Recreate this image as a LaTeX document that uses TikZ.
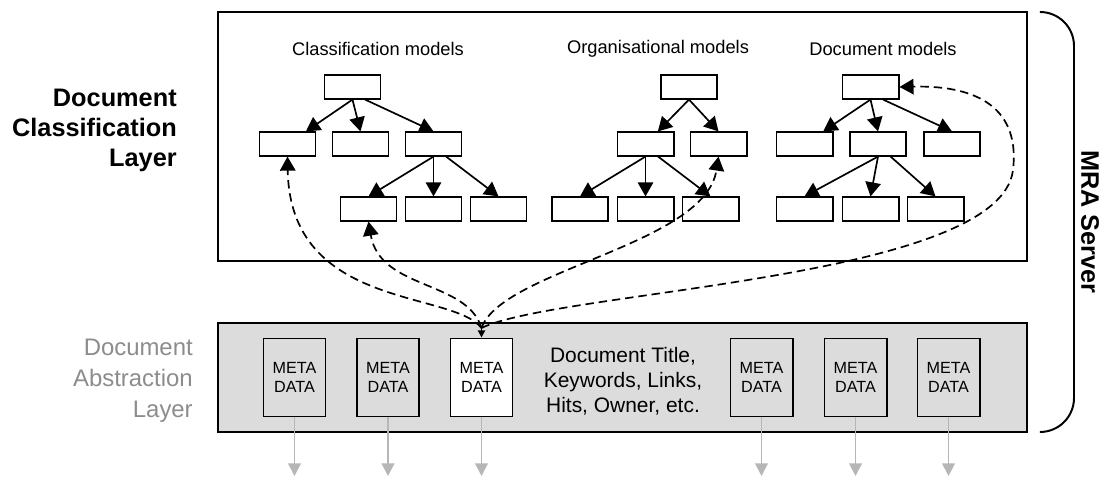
\documentclass[tikz,border=0pt]{standalone}
\usepackage{fontspec}
\setmainfont{Liberation Sans}
\usetikzlibrary{arrows.meta}
\definecolor{layergray}{RGB}{220,220,220}
\definecolor{labelgray}{RGB}{140,140,140}
\definecolor{flowgray}{RGB}{182,182,182}
\begin{document}
\begin{tikzpicture}[x=0.025cm,y=-0.025cm,
        model/.style={draw,line width=1.4pt,fill=white,minimum width=1.4cm,minimum height=0.58cm,inner sep=0pt},
        meta/.style={draw,line width=1.4pt,fill=layergray,minimum width=1.55cm,minimum height=1.95cm,inner sep=0pt,align=center,font=\fontsize{11.5}{13.6}\selectfont},
        heading/.style={font=\fontsize{13}{15}\selectfont},
        link/.style={line width=1.2pt,-{Triangle[length=10pt,width=11pt]}},
        query/.style={line width=1.2pt,dash pattern=on 6pt off 3.5pt,-{Triangle[length=10pt,width=11pt]}},
        flow/.style={draw=flowgray,line width=1.4pt,-{Triangle[length=9pt,width=9pt]}}]
    \useasboundingbox (0,0) rectangle (1104,477);
    \draw[line width=1.4pt] (218,12) rectangle (1027,261);
    \draw[line width=1.4pt,fill=layergray] (218,323) rectangle (1027,432);
    \draw[line width=1.4pt,rounded corners=0.85cm] (1040,12) -- (1074,12) -- (1074,432) -- (1040,432);
    \node[rotate=-90,font=\fontsize{18}{21}\selectfont\bfseries] (mra) at (1090,222) {MRA Server};
    \node[anchor=east,align=right,inner sep=0pt,font=\fontsize{18}{21.3}\selectfont\bfseries] (dcl) at (177,130) {Document\\Classification\\Layer};
    \node[anchor=east,align=right,inner sep=0pt,text=labelgray,font=\fontsize{17}{22}\selectfont] (dal) at (193,381) {Document\\Abstraction\\Layer};
    \node[heading] (ch) at (378,49) {Classification models};
    \node[heading] (oh) at (658,49) {Organisational models};
    \node[heading] (dh) at (883,49) {Document models};
    \node[model] (c0) at (352.5,87) {};
    \node[model] (c1) at (287.5,144) {};
    \node[model] (c2) at (360.5,144) {};
    \node[model] (c3) at (433.5,144) {};
    \node[model] (c4) at (368.5,209) {};
    \node[model] (c5) at (433.5,209) {};
    \node[model] (c6) at (498.5,209) {};
    \node[model] (o0) at (689,87) {};
    \node[model] (o1) at (645.5,144) {};
    \node[model] (o2) at (718.5,144) {};
    \node[model] (o3) at (580,209) {};
    \node[model] (o4) at (645.5,209) {};
    \node[model] (o5) at (710.5,209) {};
    \node[model] (d0) at (870.5,87) {};
    \node[model] (d1) at (804.5,144) {};
    \node[model] (d2) at (878,144) {};
    \node[model] (d3) at (952,144) {};
    \node[model] (d4) at (804.5,209) {};
    \node[model] (d5) at (870.5,209) {};
    \node[model] (d6) at (935.5,209) {};
    \draw[link] (c0.south) -- (c1);
    \draw[link] (c0.south) -- (c2.north);
    \draw[link] (c0.-45) -- (c3.north);
    \draw[link] (c3.south) -- (c4.north);
    \draw[link] (c3.south) -- (c5.north);
    \draw[link] (c3.-45) -- (c6.north);
    \draw[link] (o0.south) -- (o1);
    \draw[link] (o0.south) -- (o2.north);
    \draw[link] (o1.south) -- (o3.north);
    \draw[link] (o1.south) -- (o4.north);
    \draw[link] (o1.-45) -- (o5.north);
    \draw[link] (d0.south) -- (d1);
    \draw[link] (d0.south) -- (d2.north);
    \draw[link] (d0.-45) -- (d3.north);
    \draw[link] (d2.south) -- (d4.north);
    \draw[link] (d2.south) -- (d5.north);
    \draw[link] (d2.-45) -- (d6.north);
    \node[meta] (m1) at (294.5,377.5) {META\\DATA};
    \node[meta] (m2) at (388,377.5) {META\\DATA};
    \node[meta,fill=white] (m3) at (481.5,377.5) {META\\DATA};
    \node[meta] (m4) at (761.5,377.5) {META\\DATA};
    \node[meta] (m5) at (855.5,377.5) {META\\DATA};
    \node[meta] (m6) at (948.5,377.5) {META\\DATA};
    \node[align=center,font=\fontsize{14.9}{17.8}\selectfont] (attr) at (623,381) {Document Title,\\Keywords, Links,\\Hits, Owner, etc.};
    \coordinate (hub) at (481.5,328);
    \coordinate (turn) at (1013,170);
    \draw[query] (hub) .. controls (452,290) and (290,310) .. (c1.south);
    \draw[query] (hub) .. controls (467,280) and (380,290) .. (c4.south);
    \draw[query] (hub) .. controls (502,270) and (705,245) .. (o2.south);
    \draw[query] (hub) .. controls (560,290) and (1000,280) .. (turn) .. controls (1020,110) and (980,85) .. (d0.east);
    \draw[line width=1.2pt,-{Triangle[length=5pt,width=5pt]}] (hub) -- (m3);
    \coordinate (o1end) at (294.5,476);
    \coordinate (o2end) at (388,476);
    \coordinate (o3end) at (481.5,476);
    \coordinate (o4end) at (761.5,476);
    \coordinate (o5end) at (855.5,476);
    \coordinate (o6end) at (948.5,476);
    \draw[flow] (m1) -- (o1end);
    \draw[flow] (m2) -- (o2end);
    \draw[flow] (m3) -- (o3end);
    \draw[flow] (m4) -- (o4end);
    \draw[flow] (m5) -- (o5end);
    \draw[flow] (m6) -- (o6end);
\end{tikzpicture}
\end{document}
